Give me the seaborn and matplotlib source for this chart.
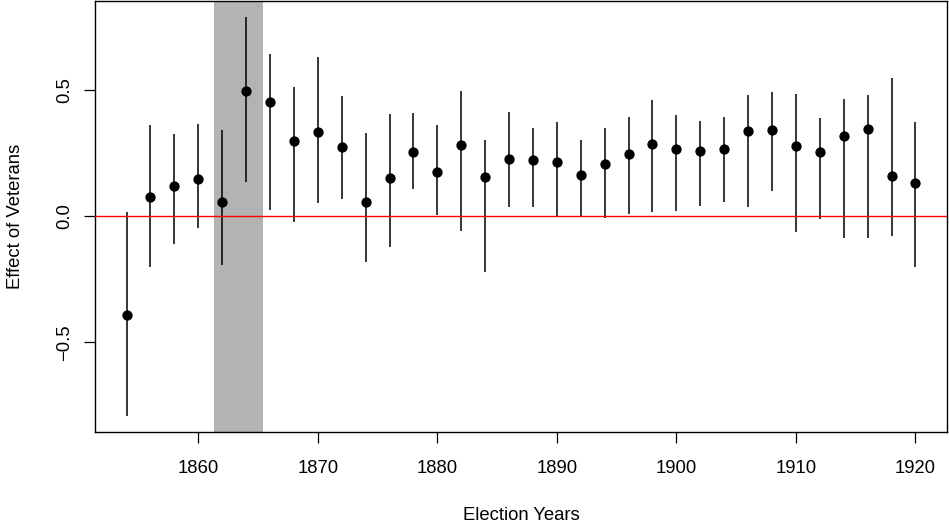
import numpy as np
import pandas as pd
import matplotlib
matplotlib.use('Agg')
import matplotlib.pyplot as plt
import seaborn as sns

# election years and estimated effect with confidence bounds
years = list(range(1854, 1921, 2))
effect = [-0.390, 0.075, 0.119, 0.148, 0.056, 0.496, 0.451, 0.300, 0.332, 0.276,
          0.058, 0.151, 0.255, 0.175, 0.284, 0.156, 0.228, 0.221, 0.216, 0.165,
          0.206, 0.247, 0.287, 0.267, 0.258, 0.266, 0.339, 0.343, 0.278, 0.253,
          0.319, 0.344, 0.161, 0.132]
ci_low = [-0.792, -0.201, -0.110, -0.048, -0.194, 0.134, 0.023, -0.022, 0.052, 0.069,
          -0.180, -0.122, 0.106, 0.005, -0.060, -0.221, 0.037, 0.038, 0.000, 0.000,
          -0.007, 0.007, 0.015, 0.020, 0.040, 0.056, 0.038, 0.099, -0.062, -0.011,
          -0.087, -0.085, -0.078, -0.202]
ci_high = [0.015, 0.361, 0.325, 0.366, 0.341, 0.790, 0.643, 0.511, 0.631, 0.476,
           0.329, 0.405, 0.411, 0.360, 0.496, 0.303, 0.413, 0.350, 0.372, 0.303,
           0.350, 0.393, 0.460, 0.401, 0.377, 0.394, 0.480, 0.491, 0.483, 0.389,
           0.463, 0.481, 0.548, 0.372]
war_span = (1861.3, 1865.4)
x_ticks = [1860, 1870, 1880, 1890, 1900, 1910, 1920]
y_ticks = [-0.5, 0.0, 0.5]
y_ticklabels = ['\u22120.5', '0.0', '0.5']

df = pd.DataFrame({'year': years, 'effect': effect, 'lo': ci_low, 'hi': ci_high})

sns.set_style('white')
plt.rcParams['font.family'] = ['Liberation Sans', 'DejaVu Sans']

fig = plt.figure(figsize=(9.49, 5.25), dpi=100)
W, H = 949, 525
ax = fig.add_axes([95 / W, (H - 432) / H, (947 - 95) / W, (432 - 1) / H])

ax.axvspan(war_span[0], war_span[1], color='#b3b3b3', lw=0, zorder=0)
ax.vlines(df['year'], df['lo'], df['hi'], color='black', lw=1.1, zorder=2)
ax.axhline(0, color='#ff0000', lw=1.0, zorder=3)
sns.scatterplot(data=df, x='year', y='effect', ax=ax, color='black', s=55,
                edgecolor='black', linewidth=0, zorder=4, legend=False)

ax.set_xlim(1851.36, 1922.64)
ax.set_ylim(-0.855, 0.853)
ax.set_xticks(x_ticks)
ax.set_xticklabels([str(t) for t in x_ticks])
ax.set_yticks(y_ticks)
ax.set_yticklabels(y_ticklabels, rotation=90, va='center')

for s in ax.spines.values():
    s.set_color('black')
    s.set_linewidth(1.0)
ax.tick_params(axis='both', direction='out', length=8, width=0.9, color='black',
               labelsize=13.3, labelcolor='black', left=True, bottom=True)
ax.tick_params(axis='x', pad=12)
ax.tick_params(axis='y', pad=8)

ax.set_xlabel('Election Years', fontsize=13.3, color='black')
ax.set_ylabel('Effect of Veterans', fontsize=13.3, color='black')
ax.xaxis.label.set_va('center')
ax.yaxis.label.set_va('center')
ax.xaxis.set_label_coords(0.5, (432 - 515) / 431)
ax.yaxis.set_label_coords((16 - 95) / 852, 0.5)

fig.savefig('out.png', dpi=100)
